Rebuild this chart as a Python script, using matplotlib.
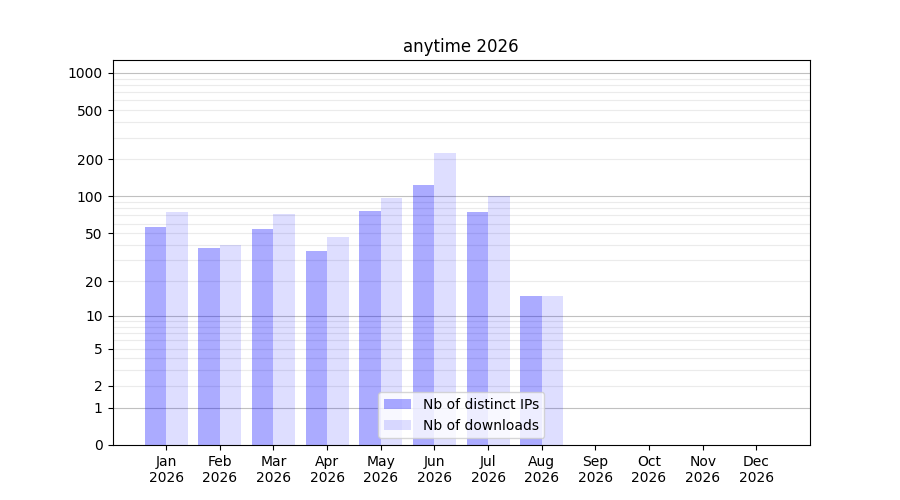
import numpy as np
import matplotlib.pyplot as plt
from matplotlib.ticker import FixedLocator, NullFormatter

months = ['Jan', 'Feb', 'Mar', 'Apr', 'May', 'Jun', 'Jul', 'Aug',
          'Sep', 'Oct', 'Nov', 'Dec']
year = '2026'
distinct_ips = [56, 38, 54, 36, 76, 124, 75, 15, 0, 0, 0, 0]
downloads = [75, 40, 72, 47, 97, 225, 100, 15, 0, 0, 0, 0]
ytick_values = [0, 1, 2, 5, 10, 20, 50, 100, 200, 500, 1000]


def fwd(v):
    return np.log10(1 + np.maximum(v, 0))


def inv(v):
    return 10 ** v - 1


fig, ax = plt.subplots(figsize=(9, 5), dpi=100)
ax.set_yscale('function', functions=(fwd, inv))

x = np.arange(len(months))
w = 0.4
ax.bar(x - w / 2, distinct_ips, w, color='blue', alpha=0.33, label='Nb of distinct IPs')
ax.bar(x + w / 2, downloads, w, color='blue', alpha=0.13, label='Nb of downloads')

ax.set_ylim(0, 1272)
ax.set_xlim(-1, 12)
ax.set_xticks(x)
ax.set_xticklabels([f'{m}\n{year}' for m in months])

ax.yaxis.set_major_locator(FixedLocator(ytick_values))
ax.set_yticklabels([str(v) for v in ytick_values])
minor = [m * d for d in (1, 10, 100) for m in range(2, 10)]
ax.yaxis.set_minor_locator(FixedLocator(minor))
ax.yaxis.set_minor_formatter(NullFormatter())
ax.tick_params(axis='y', which='minor', length=0)

for v in [1, 10, 100, 1000]:
    ax.axhline(v, color='#c0c0c0', lw=0.8, zorder=0)
for v in minor:
    ax.axhline(v, color='#ebebeb', lw=0.8, zorder=0)

ax.set_title('anytime 2026')
ax.legend(loc='lower center')

plt.savefig('out.png')
